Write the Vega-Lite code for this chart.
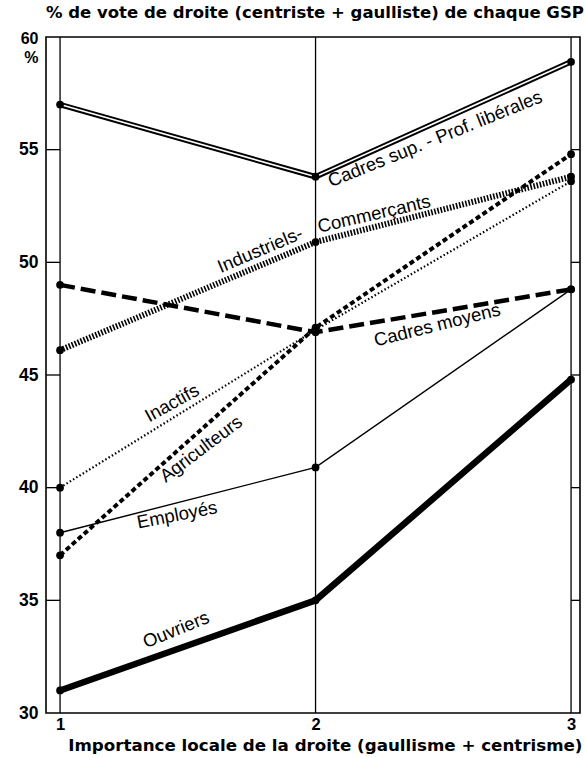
{
  "$schema": "https://vega.github.io/schema/vega-lite/v6.json",
  "width": 534,
  "height": 676,
  "autosize": {"type": "none"},
  "padding": {"left": 46, "top": 37, "right": 5, "bottom": 45},
  "background": "white",
  "config": {"view": {"stroke": "black", "strokeWidth": 1.6}, "font": "Liberation Sans"},
  "title": {"text": "% de vote de droite (centriste + gaulliste) de chaque GSP", "anchor": "start", "frame": "group", "font": "DejaVu Sans", "fontSize": 16.5, "fontWeight": "bold", "offset": 9, "color": "black"},
  "datasets": {
    "series": [
      {"groupe": "Cadres sup. - Prof. libérales", "importance": 1, "vote": 57.0},
      {"groupe": "Cadres sup. - Prof. libérales", "importance": 2, "vote": 53.8},
      {"groupe": "Cadres sup. - Prof. libérales", "importance": 3, "vote": 58.9},
      {"groupe": "Industriels-Commerçants", "importance": 1, "vote": 46.1},
      {"groupe": "Industriels-Commerçants", "importance": 2, "vote": 50.9},
      {"groupe": "Industriels-Commerçants", "importance": 3, "vote": 53.8},
      {"groupe": "Cadres moyens", "importance": 1, "vote": 49.0},
      {"groupe": "Cadres moyens", "importance": 2, "vote": 46.9},
      {"groupe": "Cadres moyens", "importance": 3, "vote": 48.8},
      {"groupe": "Inactifs", "importance": 1, "vote": 40.0},
      {"groupe": "Inactifs", "importance": 2, "vote": 47.0},
      {"groupe": "Inactifs", "importance": 3, "vote": 53.6},
      {"groupe": "Agriculteurs", "importance": 1, "vote": 37.0},
      {"groupe": "Agriculteurs", "importance": 2, "vote": 47.1},
      {"groupe": "Agriculteurs", "importance": 3, "vote": 54.8},
      {"groupe": "Employés", "importance": 1, "vote": 38.0},
      {"groupe": "Employés", "importance": 2, "vote": 40.9},
      {"groupe": "Employés", "importance": 3, "vote": 48.8},
      {"groupe": "Ouvriers", "importance": 1, "vote": 31.0},
      {"groupe": "Ouvriers", "importance": 2, "vote": 35.0},
      {"groupe": "Ouvriers", "importance": 3, "vote": 44.8}
    ],
    "labels": [
      {"label": "Cadres sup. - Prof. libérales", "importance": 2.468, "vote": 55.48},
      {"label": "Industriels-", "importance": 1.783, "vote": 50.55},
      {"label": "Commerçants", "importance": 2.229, "vote": 52.15},
      {"label": "Cadres moyens", "importance": 2.476, "vote": 47.22},
      {"label": "Inactifs", "importance": 1.438, "vote": 43.76},
      {"label": "Agriculteurs", "importance": 1.552, "vote": 41.72},
      {"label": "Employés", "importance": 1.458, "vote": 38.79},
      {"label": "Ouvriers", "importance": 1.454, "vote": 33.7}
    ],
    "ticks": [{"vote": 35}, {"vote": 40}, {"vote": 45}, {"vote": 50}, {"vote": 55}],
    "verticals": [{"importance": 1}, {"importance": 2}, {"importance": 3}]
  },
  "layer": [
    {
      "data": {"name": "verticals"},
      "mark": {"type": "rule", "color": "black", "strokeWidth": 1.3},
      "encoding": {
        "x": {"field": "importance", "type": "quantitative",
          "scale": {"domain": [0.945, 3.035], "nice": false, "zero": false},
          "axis": {"values": [1, 2, 3], "labelExpr": "datum.value == 1 ? '1' : datum.value == 2 ? '2' : '3'", "grid": false, "ticks": false, "domain": false, "labelOverlap": false, "labelFontSize": 16.5, "labelFontWeight": "bold", "labelColor": "black", "labelPadding": 3, "labelFlush": false,
            "title": "Importance locale de la droite (gaullisme + centrisme)", "titleFont": "DejaVu Sans", "titleFontSize": 16.7, "titleFontWeight": "bold", "titleColor": "black", "titleAlign": "right", "titleAnchor": "end", "titleX": 536, "titleY": 32, "titleBaseline": "middle"}}
      }
    },
    {
      "data": {"name": "series"},
      "transform": [{"filter": "datum.groupe === 'Ouvriers'"}],
      "mark": {"type": "line", "color": "black", "strokeWidth": 6.5},
      "encoding": {
        "x": {"field": "importance", "type": "quantitative"},
        "y": {"field": "vote", "type": "quantitative",
          "scale": {"domain": [30, 60], "nice": false, "zero": false},
          "axis": {"values": [30, 35, 40, 45, 50, 55, 60], "labelExpr": "datum.value == 60 ? ['60', '%'] : datum.label", "grid": false, "ticks": false, "domain": false, "labelOverlap": false, "labelFontSize": {"condition": {"test": "datum.value == 60", "value": 16}, "value": 17.5}, "labelFontWeight": "bold", "labelColor": "black", "labelPadding": 8, "labelLineHeight": 19,
            "labelBaseline": {"condition": {"test": "datum.value == 60", "value": "top"}, "value": "middle"},
            "labelOffset": {"condition": {"test": "datum.value == 60", "value": -7}, "value": 0},
            "title": null}}
      }
    },
    {
      "data": {"name": "series"},
      "transform": [{"filter": "datum.groupe === 'Employés'"}],
      "mark": {"type": "line", "color": "black", "strokeWidth": 1.4},
      "encoding": {"x": {"field": "importance", "type": "quantitative"}, "y": {"field": "vote", "type": "quantitative"}}
    },
    {
      "data": {"name": "series"},
      "transform": [{"filter": "datum.groupe === 'Inactifs'"}],
      "mark": {"type": "line", "color": "black", "strokeWidth": 2.2, "strokeDash": [1.5, 2.3]},
      "encoding": {"x": {"field": "importance", "type": "quantitative"}, "y": {"field": "vote", "type": "quantitative"}}
    },
    {
      "data": {"name": "series"},
      "transform": [{"filter": "datum.groupe === 'Agriculteurs'"}],
      "mark": {"type": "line", "color": "black", "strokeWidth": 4, "strokeDash": [5, 3]},
      "encoding": {"x": {"field": "importance", "type": "quantitative"}, "y": {"field": "vote", "type": "quantitative"}}
    },
    {
      "data": {"name": "series"},
      "transform": [{"filter": "datum.groupe === 'Cadres moyens'"}],
      "mark": {"type": "line", "color": "black", "strokeWidth": 4.5, "strokeDash": [15, 6]},
      "encoding": {"x": {"field": "importance", "type": "quantitative"}, "y": {"field": "vote", "type": "quantitative"}}
    },
    {
      "data": {"name": "series"},
      "transform": [{"filter": "datum.groupe === 'Industriels-Commerçants'"}],
      "mark": {"type": "line", "color": "black", "strokeWidth": 6, "strokeDash": [1.6, 1.6]},
      "encoding": {"x": {"field": "importance", "type": "quantitative"}, "y": {"field": "vote", "type": "quantitative"}}
    },
    {
      "data": {"name": "series"},
      "transform": [{"filter": "datum.groupe === 'Cadres sup. - Prof. libérales'"}],
      "mark": {"type": "line", "color": "black", "strokeWidth": 5.5},
      "encoding": {"x": {"field": "importance", "type": "quantitative"}, "y": {"field": "vote", "type": "quantitative"}}
    },
    {
      "data": {"name": "series"},
      "transform": [{"filter": "datum.groupe === 'Cadres sup. - Prof. libérales'"}],
      "mark": {"type": "line", "color": "white", "strokeWidth": 1.6},
      "encoding": {"x": {"field": "importance", "type": "quantitative"}, "y": {"field": "vote", "type": "quantitative"}}
    },
    {
      "data": {"name": "series"},
      "mark": {"type": "point", "filled": true, "color": "black", "opacity": 1, "size": 60},
      "encoding": {"x": {"field": "importance", "type": "quantitative"}, "y": {"field": "vote", "type": "quantitative"}}
    },
    {
      "data": {"name": "ticks"},
      "mark": {"type": "rule", "color": "black", "strokeWidth": 1.3},
      "encoding": {"y": {"field": "vote", "type": "quantitative"}, "x": {"datum": 0.945}, "x2": {"datum": 1}}
    },
    {
      "data": {"name": "ticks"},
      "mark": {"type": "rule", "color": "black", "strokeWidth": 1.3},
      "encoding": {"y": {"field": "vote", "type": "quantitative"}, "x": {"datum": 3}, "x2": {"datum": 3.035}}
    },
    {
      "data": {"name": "labels"},
      "transform": [{"filter": "datum.label === 'Cadres sup. - Prof. libérales'"}],
      "mark": {"type": "text", "angle": -22, "fontSize": 18.5, "color": "black", "align": "center", "baseline": "middle"},
      "encoding": {"x": {"field": "importance", "type": "quantitative"}, "y": {"field": "vote", "type": "quantitative"}, "text": {"field": "label"}}
    },
    {
      "data": {"name": "labels"},
      "transform": [{"filter": "datum.label === 'Industriels-'"}],
      "mark": {"type": "text", "angle": -23, "fontSize": 18.5, "color": "black", "align": "center", "baseline": "middle"},
      "encoding": {"x": {"field": "importance", "type": "quantitative"}, "y": {"field": "vote", "type": "quantitative"}, "text": {"field": "label"}}
    },
    {
      "data": {"name": "labels"},
      "transform": [{"filter": "datum.label === 'Commerçants'"}],
      "mark": {"type": "text", "angle": -13, "fontSize": 18.5, "color": "black", "align": "center", "baseline": "middle"},
      "encoding": {"x": {"field": "importance", "type": "quantitative"}, "y": {"field": "vote", "type": "quantitative"}, "text": {"field": "label"}}
    },
    {
      "data": {"name": "labels"},
      "transform": [{"filter": "datum.label === 'Cadres moyens'"}],
      "mark": {"type": "text", "angle": -14, "fontSize": 18.5, "color": "black", "align": "center", "baseline": "middle"},
      "encoding": {"x": {"field": "importance", "type": "quantitative"}, "y": {"field": "vote", "type": "quantitative"}, "text": {"field": "label"}}
    },
    {
      "data": {"name": "labels"},
      "transform": [{"filter": "datum.label === 'Inactifs'"}],
      "mark": {"type": "text", "angle": -29, "fontSize": 18.5, "color": "black", "align": "center", "baseline": "middle"},
      "encoding": {"x": {"field": "importance", "type": "quantitative"}, "y": {"field": "vote", "type": "quantitative"}, "text": {"field": "label"}}
    },
    {
      "data": {"name": "labels"},
      "transform": [{"filter": "datum.label === 'Agriculteurs'"}],
      "mark": {"type": "text", "angle": -37, "fontSize": 18.5, "color": "black", "align": "center", "baseline": "middle"},
      "encoding": {"x": {"field": "importance", "type": "quantitative"}, "y": {"field": "vote", "type": "quantitative"}, "text": {"field": "label"}}
    },
    {
      "data": {"name": "labels"},
      "transform": [{"filter": "datum.label === 'Employés'"}],
      "mark": {"type": "text", "angle": -11, "fontSize": 18.5, "color": "black", "align": "center", "baseline": "middle"},
      "encoding": {"x": {"field": "importance", "type": "quantitative"}, "y": {"field": "vote", "type": "quantitative"}, "text": {"field": "label"}}
    },
    {
      "data": {"name": "labels"},
      "transform": [{"filter": "datum.label === 'Ouvriers'"}],
      "mark": {"type": "text", "angle": -22, "fontSize": 18.5, "color": "black", "align": "center", "baseline": "middle"},
      "encoding": {"x": {"field": "importance", "type": "quantitative"}, "y": {"field": "vote", "type": "quantitative"}, "text": {"field": "label"}}
    }
  ]
}
